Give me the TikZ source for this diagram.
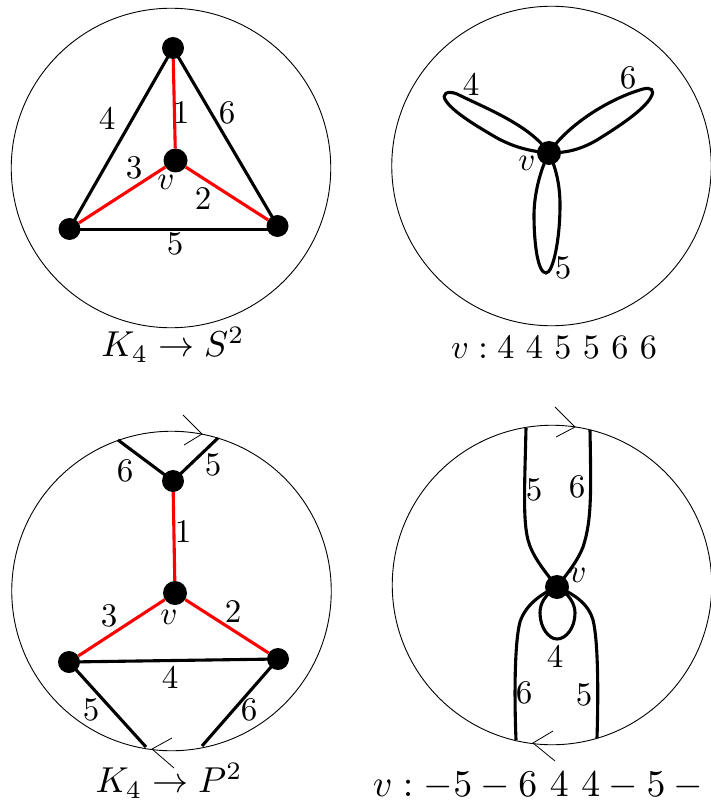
\documentclass[tikz,border=0pt]{standalone}
\begin{document}
\begin{tikzpicture}[x=1pt,y=-1pt,
  disk/.style={draw=black,line width=0.9pt,circle,inner sep=0pt,minimum size=319.5pt},
  vdot/.style={circle,fill=black,inner sep=0pt,minimum size=22pt},
  bigdot/.style={circle,fill=black,inner sep=0pt,minimum size=24pt},
  blackedge/.style={line width=3.1pt,black},
  rededge/.style={line width=3.1pt,red},
  arrowline/.style={line width=0.8pt,black},
  lab/.style={inner sep=0pt,scale=3.3},
  captext/.style={inner sep=0pt,scale=3.6}]
\useasboundingbox (0,0) rectangle (711,802);
% top left
\node[disk] (c1) at (171,168) {};
\coordinate (er) at (277,229.5);
\coordinate (dr) at (69.5,229.5);
\draw[blackedge] (173,48) coordinate (ac) -- (69.5,229) coordinate (dc);
\draw[blackedge] (ac)--(277.5,226) coordinate (ec);
\draw[blackedge] (dr)--(er);
\node[vdot] (a) at (ac) {};
\node[bigdot] (b) at (175.5,160.5) {};
\node[vdot] (d) at (dc) {};
\node[vdot] (e) at (ec) {};
\draw[rededge] (a)--(b);
\draw[rededge] (b)--(d);
\draw[rededge] (b)--(e);
\node[lab] (t4) at (107,118) {4};
\node[lab] (t1) at (181,113) {1};
\node[lab] (t6) at (227,113) {6};
\node[lab] (t3) at (134,168) {3};
\node[lab] (tv) at (166,182) {$v$};
\node[lab] (t2) at (203,199) {2};
\node[lab] (t5) at (175,244) {5};
\node[captext] (cap1) at (173,345) {$K_4\to S^2$};
% top right
\node[disk] (c2) at (551.5,166) {};
\node[bigdot] (v2) at (549,153) {};
\draw[blackedge] (v2.center) .. controls (530,125) and (485,108) .. (457,94) .. controls (447,90) and (441,94) .. (446,101) .. controls (454,113) and (480,128) .. (497,138) .. controls (512,146) and (527,151) .. (v2.center);
\draw[blackedge] (v2.center) .. controls (565,128) and (605,100) .. (643,89) .. controls (651,87) and (655,90) .. (651,97) .. controls (644,110) and (618,127) .. (597,140) .. controls (580,150) and (565,153) .. (v2.center);
\draw[blackedge] (v2.center) .. controls (540,170) and (534,195) .. (534,215) .. controls (534,245) and (538,273) .. (546,273) .. controls (553,273) and (560,240) .. (560,205) .. controls (560,185) and (556,168) .. (v2.center);
\node[lab] (u4) at (471,84) {4};
\node[lab] (u6) at (628,78) {6};
\node[lab] (uv) at (527,163) {$v$};
\node[lab] (u5) at (563,268) {5};
\node[captext,scale=0.95] (cap2) at (554,347) {$v:4\ 4\ 5\ 5\ 6\ 6$};
% bottom left
\node[disk] (c3) at (171.5,591) {};
\coordinate (e6) at (118,440);
\coordinate (e5) at (218,438);
\coordinate (f5) at (146,747);
\coordinate (f6) at (202,746);
\coordinate (pc) at (173,481);
\coordinate (qc) at (175,593);
\coordinate (rc) at (69,662);
\coordinate (sc) at (278,659);
\draw[blackedge] (pc)--(e6);
\draw[blackedge] (pc)--(e5);
\draw[blackedge] (rc)--(sc);
\draw[blackedge] (rc)--(f5);
\draw[blackedge] (sc)--(f6);
\node[vdot] (p) at (pc) {};
\node[bigdot] (q) at (qc) {};
\node[vdot] (r) at (rc) {};
\node[vdot] (s) at (sc) {};
\draw[rededge] (p)--(q);
\draw[rededge] (q)--(r);
\draw[rededge] (q)--(s);
\coordinate (a1) at (183,415); \coordinate (a2) at (202,434); \coordinate (a3) at (184,445);
\coordinate (a4) at (172,738); \coordinate (a5) at (152,749); \coordinate (a6) at (174,768);
\draw[arrowline] (a1)--(a2)--(a3);
\draw[arrowline] (a4)--(a5)--(a6);
\node[lab] (w6) at (125,471) {6};
\node[lab] (w5) at (213,465) {5};
\node[lab] (w1) at (183,532) {1};
\node[lab] (w3) at (109,616) {3};
\node[lab] (wv) at (169,617) {$v$};
\node[lab] (w2) at (233,612) {2};
\node[lab] (w4) at (170,677) {4};
\node[lab] (w5b) at (91,710) {5};
\node[lab] (w6b) at (249,710) {6};
\node[captext] (cap3) at (169,781) {$K_4\to P^2$};
% bottom right
\node[disk] (c4) at (552,585) {};
\node[bigdot] (v4) at (557,587) {};
\coordinate (g1) at (526,428);
\coordinate (g2) at (590,430);
\coordinate (g3) at (516,740);
\coordinate (g4) at (597,738);
\draw[blackedge] (g1) .. controls (524.5,490) and (523,520) .. (528,540) .. controls (532,555) and (542,568) .. (v4.center);
\draw[blackedge] (g2) .. controls (591,490) and (592,520) .. (583,547) .. controls (578,560) and (570,570) .. (v4.center);
\draw[blackedge] (g3) .. controls (514,690) and (515,640) .. (520,622) .. controls (525,606) and (540,594) .. (v4.center);
\draw[blackedge] (g4) .. controls (598.5,690) and (598,640) .. (593,620) .. controls (589,605) and (575,594) .. (v4.center);
\draw[blackedge] (v4.center) .. controls (545,595) and (540,603) .. (540,613) .. controls (540,628) and (549,639) .. (557,639) .. controls (566,639) and (575,628) .. (575,613) .. controls (575,603) and (568,593) .. (v4.center);
\coordinate (b1) at (555,407); \coordinate (b2) at (575,427); \coordinate (b3) at (556,437);
\coordinate (b4) at (553,731); \coordinate (b5) at (533,743); \coordinate (b6) at (555,761);
\draw[arrowline] (b1)--(b2)--(b3);
\draw[arrowline] (b4)--(b5)--(b6);
\node[lab] (x5) at (534,490) {5};
\node[lab] (x6) at (577,487) {6};
\node[lab] (xv) at (578,575) {$v$};
\node[lab] (x4) at (555,656) {4};
\node[lab] (x6b) at (524,693) {6};
\node[lab] (x5b) at (584,695) {5};
\node[captext,anchor=west,scale=1.05] (cap4) at (372,786) {$v:-5-6\ 4\ 4-5-{}$};
\end{tikzpicture}
\end{document}
